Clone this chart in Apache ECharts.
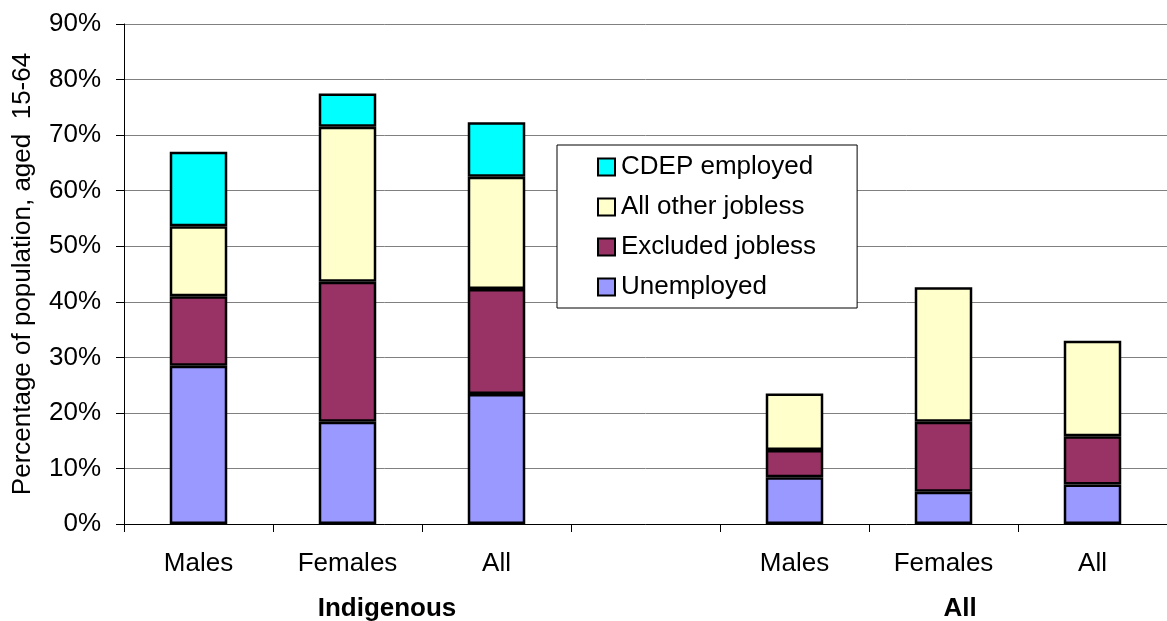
<!DOCTYPE html>
<html>
<head>
<meta charset="utf-8">
<script src="https://cdn.jsdelivr.net/npm/echarts@6/dist/echarts.min.js"></script>
<style>
html,body{margin:0;padding:0;background:#fff;}
#chart{width:1167px;height:621px;}
</style>
</head>
<body>
<div id="chart"></div>
<script>
var categories = ['Males', 'Females', 'All', '', 'Males', 'Females', 'All'];
var groupLabels = ['Indigenous', 'All'];
var seriesNames = ['Unemployed', 'Excluded jobless', 'All other jobless', 'CDEP employed'];
var unemployed      = [28.5, 18.4, 23.4, null, 8.4, 5.8, 7.1];
var excludedJobless = [12.5, 25.2, 18.9, null, 4.9, 12.6, 8.7];
var allOtherJobless = [12.6, 27.9, 20.2, null, 10.2, 24.2, 17.2];
var cdepEmployed    = [13.4, 6.0, 9.8, null, null, null, null];
var yTicks = [0, 10, 20, 30, 40, 50, 60, 70, 80, 90];

var FONT = '"Liberation Sans", Arial, sans-serif';
var colors = ['#9999FF', '#993366', '#FFFFCC', '#00FFFF'];
var values = [unemployed, excludedJobless, allOtherJobless, cdepEmployed];

var chart = echarts.init(document.getElementById('chart'), null, {renderer: 'canvas'});

var series = seriesNames.map(function (name, i) {
  return {
    name: name,
    type: 'bar',
    stack: 'total',
    barWidth: 57.5,
    data: values[i],
    itemStyle: {color: colors[i], borderColor: '#000', borderWidth: 2.5},
    emphasis: {disabled: true}
  };
});

chart.setOption({
  animation: false,
  backgroundColor: '#fff',
  textStyle: {fontFamily: FONT},
  grid: {left: 124, top: 24, width: 1045, height: 500, containLabel: false},
  legend: {
    data: ['CDEP employed', 'All other jobless', 'Excluded jobless', 'Unemployed'],
    orient: 'vertical',
    left: 557,
    top: 145,
    itemWidth: 17,
    itemHeight: 17,
    itemGap: 14,
    padding: [9, 41, 8, 40],
    backgroundColor: '#fff',
    borderColor: '#000',
    borderWidth: 1,
    borderRadius: 0,
    icon: 'rect',
    selectedMode: false,
    textStyle: {fontFamily: FONT, fontSize: 26, color: '#000', lineHeight: 26, padding: [0, 0, 0, 1]},
    itemStyle: {borderColor: '#000', borderWidth: 2}
  },
  xAxis: {
    type: 'category',
    data: categories,
    axisLine: {lineStyle: {color: '#000', width: 1}},
    axisTick: {show: true, length: 8, alignWithLabel: false, lineStyle: {color: '#000'}},
    axisLabel: {fontFamily: FONT, fontSize: 26, color: '#000', margin: 27, interval: 0},
    splitLine: {show: false}
  },
  yAxis: {
    type: 'value',
    min: yTicks[0],
    max: yTicks[yTicks.length - 1],
    interval: 10,
    name: 'Percentage of population, aged  15-64',
    nameLocation: 'middle',
    nameRotate: 90,
    nameGap: 88,
    nameTextStyle: {fontFamily: FONT, fontSize: 26, color: '#000'},
    axisLine: {show: true, lineStyle: {color: '#000', width: 1}},
    axisTick: {show: true, length: 8, lineStyle: {color: '#000'}},
    axisLabel: {fontFamily: FONT, fontSize: 26, color: '#000', margin: 23, formatter: '{value}%'},
    splitLine: {show: true, lineStyle: {color: '#808080', width: 1}}
  },
  graphic: [
    {type: 'text', x: 387, y: 609, style: {text: groupLabels[0], font: 'bold 26px ' + FONT, fill: '#000', textAlign: 'center', textVerticalAlign: 'middle'}},
    {type: 'text', x: 960, y: 609, style: {text: groupLabels[1], font: 'bold 26px ' + FONT, fill: '#000', textAlign: 'center', textVerticalAlign: 'middle'}}
  ],
  series: series
});
</script>
</body>
</html>
